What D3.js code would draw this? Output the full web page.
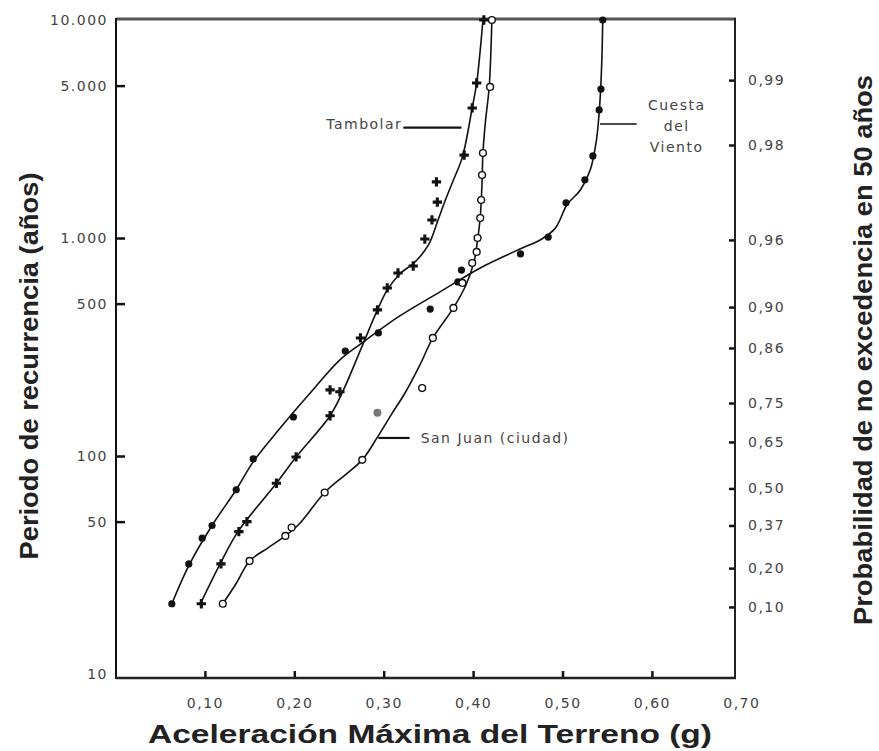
<!DOCTYPE html>
<html>
<head>
<meta charset="utf-8">
<script src="https://cdn.jsdelivr.net/npm/d3@7"></script>
<style>
  body { margin: 0; background: #fff; }
  .tick text { font-family: "DejaVu Sans", sans-serif; font-size: 14px; letter-spacing: 1.5px; fill: #444; }
  .site-label { font-family: "DejaVu Sans", sans-serif; font-size: 14px; letter-spacing: 1.5px; fill: #444; }
  .title { font-family: "Liberation Sans", Arial, sans-serif; font-weight: bold; fill: #222; }
</style>
</head>
<body>
<div id="chart"></div>
<script>
// axis ticks
const periodTicks = [10, 50, 100, 500, 1000, 5000, 10000];
const accTicks = [0.1, 0.2, 0.3, 0.4, 0.5, 0.6, 0.7];
const probLabels = ["0,99", "0,98", "0,96", "0,90", "0,86", "0,75", "0,65", "0,50", "0,37", "0,20", "0,10"];
const probPeriods = [5300, 2670, 980, 482, 313, 175, 116, 71, 48, 30.6, 20.3];

// Cuesta del Viento - points (filled dots) and fitted curve
const cuestaX = [0.063, 0.082, 0.097, 0.108, 0.135, 0.154, 0.199, 0.257, 0.294, 0.352, 0.383, 0.387, 0.453, 0.484, 0.504, 0.525, 0.534, 0.541, 0.543, 0.545];
const cuestaT = [21, 32, 42, 48, 70, 97, 151, 303, 367, 472, 629, 713, 845, 1010, 1450, 1850, 2380, 3870, 4820, 10000];
const cuestaCurveX = [0.063, 0.083, 0.108, 0.135, 0.154, 0.184, 0.218, 0.251, 0.274, 0.318, 0.363, 0.408, 0.455, 0.475, 0.492, 0.505, 0.520, 0.531, 0.538, 0.542, 0.544, 0.545];
const cuestaCurveT = [21, 32, 48, 70, 94, 134, 195, 276, 326, 439, 566, 729, 900, 979, 1110, 1420, 1660, 2050, 2820, 4300, 6550, 10000];

// Tambolar - points (crosses) and fitted curve
const tambolarX = [0.096, 0.118, 0.138, 0.147, 0.180, 0.202, 0.240, 0.240, 0.251, 0.274, 0.293, 0.304, 0.316, 0.333, 0.346, 0.354, 0.360, 0.359, 0.390, 0.399, 0.404, 0.412];
const tambolarT = [21, 32, 45, 50, 75, 99, 153, 201, 197, 348, 468, 590, 691, 744, 989, 1210, 1460, 1810, 2400, 3950, 5140, 10000];
const tambolarCurveX = [0.095, 0.117, 0.137, 0.180, 0.202, 0.240, 0.255, 0.274, 0.293, 0.304, 0.318, 0.335, 0.350, 0.360, 0.369, 0.378, 0.388, 0.399, 0.404, 0.408, 0.411];
const tambolarCurveT = [21, 32, 45, 75, 99, 153, 201, 306, 468, 578, 684, 776, 929, 1184, 1494, 1846, 2350, 3950, 5140, 7290, 10000];

// San Juan (ciudad) - points (open circles) and fitted curve
const sanJuanX = [0.120, 0.150, 0.190, 0.197, 0.234, 0.276, 0.343, 0.355, 0.378, 0.388, 0.399, 0.404, 0.405, 0.408, 0.409, 0.410, 0.411, 0.419, 0.421];
const sanJuanT = [21, 33, 43, 47, 68, 96, 205, 348, 478, 622, 768, 863, 1000, 1235, 1494, 1945, 2454, 4930, 10000];
const sanJuanGreyX = [0.293];
const sanJuanGreyT = [158];
const sanJuanCurveX = [0.120, 0.135, 0.150, 0.171, 0.190, 0.206, 0.234, 0.257, 0.276, 0.293, 0.309, 0.324, 0.340, 0.355, 0.378, 0.392, 0.401, 0.405, 0.408, 0.410, 0.411, 0.414, 0.418, 0.421];
const sanJuanCurveT = [21, 26, 33, 38, 43, 49, 68, 82, 96, 122, 156, 195, 259, 348, 478, 609, 776, 979, 1250, 1790, 2450, 3480, 4930, 10000];

// curve labels with their leader lines
const labelNames = [["Tambolar"], ["Cuesta", "del", "Viento"], ["San Juan (ciudad)"]];
const labelFromX = [0.387, 0.542, 0.294];
const labelToX = [0.322, 0.583, 0.329];
const labelT = [3206, 3335, 121];

(function () {
    const w = 879;
    const h = 751;
    const left = 116, right = 735, top = 19, bottom = 678;

    const x = d3.scaleLinear().domain([0, 0.7]).range([115.5, 741.3]);
    const y = d3.scaleLog().domain([10, 10000]).range([674, 20]);

    const es = d3.formatLocale({decimal: ",", thousands: ".", grouping: [3], currency: ["", ""]});
    const fmtPeriod = es.format(",d");
    const fmtAcc = es.format(".2f");

    const svg = d3.select("#chart")
        .append("svg")
        .attr("width", w)
        .attr("height", h)
        .style("background", "#fff");

    // axes (ticks point inward)
    const gLeft = svg.append("g")
        .attr("transform", `translate(${left},0)`)
        .call(d3.axisLeft(y).tickValues(periodTicks).tickFormat(fmtPeriod)
            .tickSizeInner(-9).tickSizeOuter(0).tickPadding(8));
    gLeft.selectAll(".tick line").filter(d => d === 10 || d === 10000).remove();

    const gBottom = svg.append("g")
        .attr("transform", `translate(0,${bottom})`)
        .call(d3.axisBottom(x).tickValues(accTicks).tickFormat(fmtAcc)
            .tickSizeInner(-7).tickSizeOuter(0).tickPadding(20));
    gBottom.selectAll(".tick line").filter(d => d === 0.7).remove();

    const gRight = svg.append("g")
        .attr("transform", `translate(${right},0)`)
        .call(d3.axisRight(y).tickValues(probPeriods).tickFormat((d, i) => probLabels[i])
            .tickSizeInner(-6).tickSizeOuter(0).tickPadding(13));

    [gLeft, gBottom, gRight].forEach(g => {
        g.select(".domain").remove();
        g.selectAll(".tick line").attr("stroke", "#111").attr("stroke-width", 2.5);
    });

    // frame
    const frame = [
        [left, top, right + 1, top, "#555", 3],
        [left, top - 1, left, bottom + 1, "#111", 2],
        [left, bottom, right + 1, bottom, "#222", 2.5],
        [right, top - 1, right, bottom + 1, "#222", 2]
    ];
    svg.selectAll("line.frame")
        .data(frame)
        .enter()
        .append("line")
            .attr("class", "frame")
            .attr("x1", d => d[0]).attr("y1", d => d[1])
            .attr("x2", d => d[2]).attr("y2", d => d[3])
            .attr("stroke", d => d[4])
            .attr("stroke-width", d => d[5]);

    // fitted curves
    const lineFunc = d3.line()
        .x(d => x(d[0]))
        .y(d => y(d[1]))
        .curve(d3.curveCatmullRom.alpha(0.5));

    [[cuestaCurveX, cuestaCurveT], [tambolarCurveX, tambolarCurveT], [sanJuanCurveX, sanJuanCurveT]]
        .forEach(c => {
            svg.append("path")
                .attr("d", lineFunc(d3.zip(c[0], c[1])))
                .attr("fill", "none")
                .attr("stroke", "#111")
                .attr("stroke-width", 1.6);
        });

    // markers
    svg.selectAll("circle.cuesta")
        .data(d3.zip(cuestaX, cuestaT))
        .enter()
        .append("circle")
            .attr("class", "cuesta")
            .attr("cx", d => x(d[0]))
            .attr("cy", d => y(d[1]))
            .attr("r", 3.6)
            .attr("fill", "#111");

    svg.selectAll("path.tambolar")
        .data(d3.zip(tambolarX, tambolarT))
        .enter()
        .append("path")
            .attr("class", "tambolar")
            .attr("d", d3.symbol(d3.symbolCross, 48))
            .attr("transform", d => `translate(${x(d[0])},${y(d[1])})`)
            .attr("fill", "#111");

    svg.selectAll("circle.sanjuan")
        .data(d3.zip(sanJuanX, sanJuanT))
        .enter()
        .append("circle")
            .attr("class", "sanjuan")
            .attr("cx", d => x(d[0]))
            .attr("cy", d => y(d[1]))
            .attr("r", 3.4)
            .attr("fill", "#fff")
            .attr("stroke", "#111")
            .attr("stroke-width", 1.4);

    svg.selectAll("circle.grey")
        .data(d3.zip(sanJuanGreyX, sanJuanGreyT))
        .enter()
        .append("circle")
            .attr("class", "grey")
            .attr("cx", d => x(d[0]))
            .attr("cy", d => y(d[1]))
            .attr("r", 4)
            .attr("fill", "#777");

    // curve labels
    labelNames.forEach((lines, i) => {
        const ly = y(labelT[i]);
        const x1 = x(labelFromX[i]);
        const x2 = x(labelToX[i]);
        svg.append("line")
            .attr("x1", x1).attr("y1", ly)
            .attr("x2", x2).attr("y2", ly)
            .attr("stroke", "#111")
            .attr("stroke-width", i === 1 ? 1.6 : 2.2);
        const t = svg.append("text").attr("class", "site-label");
        if (i === 0) {
            t.attr("x", x2 - 1).attr("y", ly - 4).attr("dy", "0.35em")
                .attr("text-anchor", "end").text(lines[0]);
        } else if (i === 1) {
            t.attr("text-anchor", "middle");
            lines.forEach((s, k) => {
                t.append("tspan")
                    .attr("x", x2 + 40)
                    .attr("y", ly - 19 + k * 21)
                    .attr("dy", "0.35em")
                    .text(s);
            });
        } else {
            t.attr("x", x2 + 11).attr("y", ly).attr("dy", "0.35em")
                .attr("text-anchor", "start").text(lines[0]);
        }
    });

    // axis titles
    svg.append("text")
        .attr("class", "title")
        .attr("x", 430).attr("y", 743)
        .attr("text-anchor", "middle")
        .attr("font-size", 25)
        .attr("textLength", 564)
        .attr("lengthAdjust", "spacingAndGlyphs")
        .text("Aceleración Máxima del Terreno (g)");

    svg.append("text")
        .attr("class", "title")
        .attr("transform", "translate(38,366) rotate(-90)")
        .attr("text-anchor", "middle")
        .attr("font-size", 26)
        .attr("textLength", 387)
        .attr("lengthAdjust", "spacingAndGlyphs")
        .text("Periodo de recurrencia (años)");

    svg.append("text")
        .attr("class", "title")
        .attr("transform", "translate(872,350) rotate(-90)")
        .attr("text-anchor", "middle")
        .attr("font-size", 25)
        .attr("textLength", 550)
        .attr("lengthAdjust", "spacingAndGlyphs")
        .text("Probabilidad de no excedencia en 50 años");
})();
</script>
</body>
</html>
